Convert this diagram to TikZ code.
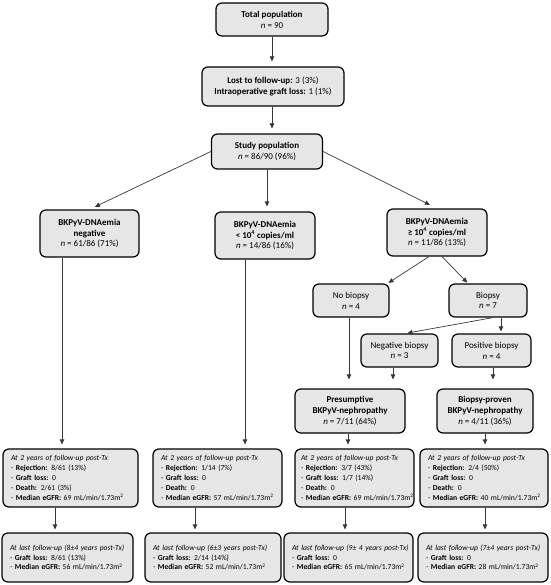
\documentclass[tikz,border=0pt]{standalone}
\usepackage{fontspec}
\setmainfont{Carlito}
\usetikzlibrary{arrows.meta,calc}
\definecolor{boxfill}{HTML}{E7E6E6}
\definecolor{arrcol}{HTML}{383838}
\begin{document}
\begin{tikzpicture}[x=1pt,y=-1pt,
  box/.style={draw=black, line width=1.2pt, fill=boxfill, rounded corners=6pt, align=center, inner sep=0pt, font=\fontsize{9}{10.8}\selectfont},
  fbox/.style={draw=black, line width=1.2pt, fill=boxfill, rounded corners=6pt, align=left, inner xsep=8pt, inner ysep=0pt, font=\fontsize{7.6}{9.8}\selectfont},
  arr/.style={draw=arrcol, line width=0.7pt, -{Triangle[length=5pt,width=4.5pt]}, shorten >=5pt}]
\useasboundingbox (0,0) rectangle (550,585);

% top
\node[box, minimum width=112pt, minimum height=33pt] (tot) at (272,19.5) {\textbf{Total population}\\\textit{n} = 90};
\node[box, minimum width=142pt, minimum height=39pt] (lost) at (273,86.5) {\textbf{Lost to follow-up:} 3 (3\%)\\\textbf{Intraoperative graft loss:} 1 (1\%)};
\node[box, minimum width=111pt, minimum height=35pt] (study) at (267,151.5) {\textbf{Study population}\\\textit{n} = 86/90 (96\%)};

% groups
\node[box, minimum width=99pt, minimum height=47pt] (neg) at (89.5,233.5) {\textbf{BKPyV-DNAemia}\\\textbf{negative}\\\textit{n} = 61/86 (71\%)};
\node[box, minimum width=100pt, minimum height=47pt] (low) at (265,235.5) {\textbf{BKPyV-DNAemia}\\\textbf{< 10\textsuperscript{4} copies/ml}\\\textit{n} = 14/86 (16\%)};
\node[box, minimum width=100pt, minimum height=47pt] (high) at (437,232.5) {\textbf{BKPyV-DNAemia}\\\textbf{≥ 10\textsuperscript{4} copies/ml}\\\textit{n} = 11/86 (13\%)};

% biopsy
\node[box, minimum width=76pt, minimum height=33pt] (nobx) at (351,300.5) {No biopsy\\\textit{n} = 4};
\node[box, minimum width=78pt, minimum height=33pt] (bx) at (488,300.5) {Biopsy\\\textit{n} = 7};
\node[box, minimum width=77pt, minimum height=33pt] (negbx) at (399.5,350.5) {Negative biopsy\\\textit{n} = 3};
\node[box, minimum width=79pt, minimum height=33pt] (posbx) at (491.5,350.5) {Positive biopsy\\\textit{n} = 4};
\node[box, minimum width=110pt, minimum height=44pt] (pres) at (350,411) {\textbf{Presumptive}\\\textbf{BKPyV-nephropathy}\\\textit{n} = 7/11 (64\%)};
\node[box, minimum width=96pt, minimum height=44pt] (prov) at (485,411) {\textbf{Biopsy-proven}\\\textbf{BKPyV-nephropathy}\\\textit{n} = 4/11 (36\%)};

% 2-year boxes
\node[fbox, text width=119pt, minimum height=58pt] (ya) at (70.5,478) {\textit{At 2 years of follow-up post-Tx}\\- \textbf{Rejection:} 8/61 (13\%)\\- \textbf{Graft loss:} 0\\- \textbf{Death:} 2/61 (3\%)\\\mbox{- \textbf{Median eGFR:} 69 mL/min/1.73m\textsuperscript{2}}};
\node[fbox, text width=113pt, minimum height=58pt] (yb) at (217.5,478) {\textit{At 2 years of follow-up post-Tx}\\- \textbf{Rejection:} 1/14 (7\%)\\- \textbf{Graft loss:} 0\\- \textbf{Death:} 0\\\mbox{- \textbf{Median eGFR:} 57 mL/min/1.73m\textsuperscript{2}}};
\node[fbox, inner xsep=6pt, text width=107pt, minimum height=58pt] (yc) at (354.5,478) {\textit{At 2 years of follow-up post-Tx}\\- \textbf{Rejection:} 3/7 (43\%)\\- \textbf{Graft loss:} 1/7 (14\%)\\- \textbf{Death:} 0\\\mbox{- \textbf{Median eGFR:} 69 mL/min/1.73m\textsuperscript{2}}};
\node[fbox, text width=112pt, minimum height=58pt] (yd) at (484,478) {\textit{At 2 years of follow-up post-Tx}\\- \textbf{Rejection:} 2/4 (50\%)\\- \textbf{Graft loss:} 0\\- \textbf{Death:} 0\\\mbox{- \textbf{Median eGFR:} 40 mL/min/1.73m\textsuperscript{2}}};

% last follow-up boxes
\node[fbox, text width=115pt, minimum height=49pt] (la) at (67.5,557.5) {\mbox{\textit{At last follow-up (8±4 years post-Tx)}}\\- \textbf{Graft loss:} 8/61 (13\%)\\\mbox{- \textbf{Median eGFR:} 56 mL/min/1.73m\textsuperscript{2}}};
\node[fbox, text width=120pt, minimum height=49pt] (lb) at (213,557.5) {\mbox{\textit{At last follow-up (6±3 years post-Tx)}}\\- \textbf{Graft loss:} 2/14 (14\%)\\\mbox{- \textbf{Median eGFR:} 52 mL/min/1.73m\textsuperscript{2}}};
\node[fbox, text width=113pt, minimum height=49pt] (lc) at (348.5,557.5) {\mbox{\textit{At last follow-up (9± 4 years post-Tx)}}\\- \textbf{Graft loss:} 0\\\mbox{- \textbf{Median eGFR:} 65 mL/min/1.73m\textsuperscript{2}}};
\node[fbox, text width=114pt, minimum height=49pt] (ld) at (483,557.5) {\mbox{\textit{At last follow-up (7±4 years post-Tx)}}\\- \textbf{Graft loss:} 0\\\mbox{- \textbf{Median eGFR:} 28 mL/min/1.73m\textsuperscript{2}}};

% helper coordinates
\coordinate (c1) at ([xshift=-1pt]lost.south);
\coordinate (c2) at ([xshift=-27.5pt]neg.south);
\coordinate (c3) at ([xshift=-20pt]low.south);
\coordinate (c4) at ([xshift=-2pt]pres.south);
\coordinate (c5) at ([xshift=-15.5pt]ya.south);
\coordinate (c6) at ([xshift=-22.5pt]yb.south);
\coordinate (c7) at ([xshift=-9.5pt]yc.south);
\coordinate (c8) at ([xshift=1pt]yd.south);
\coordinate (h1) at ([xshift=-8pt]high.south);
\coordinate (h2) at ([xshift=5pt]high.south);
\coordinate (nbt) at ([xshift=-2pt]nobx.north east);
\coordinate (bxt) at ([xshift=-20pt]bx.north);
\coordinate (b1) at ([xshift=5pt]bx.south);
\coordinate (b2) at ([xshift=13pt]bx.south);
\coordinate (ngt) at ([xshift=6pt]negbx.north);
\coordinate (n1) at ([xshift=-2pt]nobx.south);
\coordinate (n2) at ([xshift=-6.5pt]negbx.south);
\coordinate (p1) at ([xshift=1.5pt]posbx.south);

% connectors
\draw[arr] (tot.south) -- (tot.south |- lost.north);
\draw[arr] (c1) -- (c1 |- study.north);
\draw[arr, shorten >=6pt] (study.west) -- (neg.north);
\draw[arr] (study.south) -- (study.south |- low.north);
\draw[arr, shorten >=8pt] (study.east) -- (high.north);
\draw[arr, shorten >=1pt] (h1) -- (nbt);
\draw[arr, shorten >=1pt] (h2) -- (bxt);
\draw[arr, shorten >=2pt] (b1) -- (ngt);
\draw[arr, shorten >=2pt] (b2) -- (b2 |- posbx.north);
\draw[arr, shorten >=9pt] (n1) -- (n1 |- pres.north);
\draw[arr, shorten >=9pt] (n2) -- (n2 |- pres.north);
\draw[arr, shorten >=9pt] (p1) -- (p1 |- prov.north);
\draw[arr, shorten >=4pt] (c2) -- (c2 |- ya.north);
\draw[arr, shorten >=4pt] (c3) -- (c3 |- yb.north);
\draw[arr, shorten >=4pt] (c4) -- (c4 |- yc.north);
\draw[arr, shorten >=4pt] (prov.south) -- (prov.south |- yd.north);
\draw[arr, shorten >=3pt] (c5) -- (c5 |- la.north);
\draw[arr, shorten >=3pt] (c6) -- (c6 |- lb.north);
\draw[arr, shorten >=3pt] (c7) -- (c7 |- lc.north);
\draw[arr, shorten >=3pt] (c8) -- (c8 |- ld.north);
\end{tikzpicture}
\end{document}
